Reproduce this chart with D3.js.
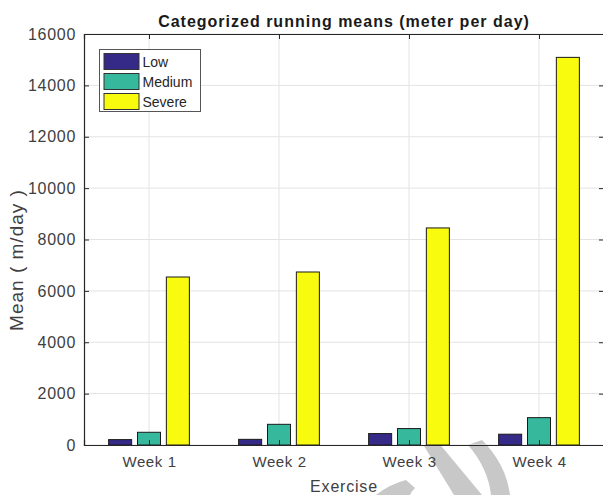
<!DOCTYPE html>
<html>
<head>
<meta charset="utf-8">
<script src="https://cdn.jsdelivr.net/npm/d3@7"></script>
<style>
  body { margin: 0; background: #fff; }
  svg { display: block; font-family: "Liberation Sans", Arial, sans-serif; }
</style>
</head>
<body>
<div id="chart"></div>
<script>
// data
const weeks = ["Week 1", "Week 2", "Week 3", "Week 4"];
const groups = ["Low", "Medium", "Severe"];
const low = [210, 220, 445, 420];
const medium = [495, 805, 640, 1065];
const severe = [6540, 6735, 8450, 15090];
const yTicks = [0, 2000, 4000, 6000, 8000, 10000, 12000, 14000, 16000];

const colors = ["#352a87", "#35b89c", "#f9fb0e"];
const series = [low, medium, severe];

// layout
const W = 603, H = 495;
const margin = {top: 34, left: 84, bottom: 50, right: -1};
const width = W - margin.left - margin.right;
const height = H - margin.top - margin.bottom;

const svg = d3.select("#chart").append("svg")
    .attr("width", W)
    .attr("height", H);

// watermark fragment at the bottom (drawn first, text sits on it)
const wm = svg.append("g").attr("fill", "#c8c8c8");
wm.append("path").attr("d", "M376,495 Q390,484 406,480 L415,488 Q411,492 410,495 Z");
wm.append("path").attr("d", "M424,446 L438,442 L482,495 L454,495 Z");
wm.append("path").attr("d", "M468,445 L482,440 Q506,464 510,495 L491,495 Q488,468 468,445 Z");

const g = svg.append("g")
    .attr("transform", `translate(${margin.left},${margin.top})`);

// scales
const x = d3.scaleLinear().domain([0.5, 4.5]).range([0, width]);
const y = d3.scaleLinear().domain([0, 16000]).range([height, 0]);

const offsets = [-0.222, 0, 0.222];
const barW = 0.177;

// grid
g.append("g").selectAll("line.gx")
    .data(weeks)
    .enter().append("line")
    .attr("x1", (d, i) => x(i + 1)).attr("x2", (d, i) => x(i + 1))
    .attr("y1", 0).attr("y2", height)
    .attr("stroke", "#e3e3e3");
g.append("g").selectAll("line.gy")
    .data(yTicks)
    .enter().append("line")
    .attr("x1", 0).attr("x2", width)
    .attr("y1", d => y(d)).attr("y2", d => y(d))
    .attr("stroke", "#e3e3e3");

// bars
series.forEach((vals, s) => {
  g.append("g").selectAll("rect")
    .data(vals)
    .enter().append("rect")
    .attr("x", (d, i) => x(i + 1 + offsets[s] - barW / 2))
    .attr("width", x(barW) - x(0))
    .attr("y", d => y(d))
    .attr("height", d => height - y(d))
    .attr("fill", colors[s])
    .attr("stroke", "#1a1a1a")
    .attr("stroke-width", 1);
});

// axes (ticks point inward, box on)
const axisColor = "#262626";
const tickLen = 5;

const yAxis = g.append("g")
    .call(d3.axisLeft(y).tickValues(yTicks).tickSize(-tickLen).tickPadding(8).tickFormat(d3.format("d")));
const yAxisR = g.append("g")
    .attr("transform", `translate(${width},0)`)
    .call(d3.axisRight(y).tickValues(yTicks).tickSize(-tickLen).tickFormat(""));
const xAxis = g.append("g")
    .attr("transform", `translate(0,${height})`)
    .call(d3.axisBottom(x).tickValues([1, 2, 3, 4]).tickSize(-tickLen).tickPadding(11)
      .tickFormat(d => weeks[d - 1]));
const xAxisT = g.append("g")
    .call(d3.axisTop(x).tickValues([1, 2, 3, 4]).tickSize(-tickLen).tickFormat(""));

[yAxis, yAxisR, xAxis, xAxisT].forEach(a => {
  a.select(".domain").attr("stroke", axisColor).attr("stroke-width", 1.2);
  a.selectAll(".tick line").attr("stroke", axisColor);
  a.selectAll(".tick text")
    .attr("fill", "#404040")
    .style("font-family", "'Liberation Sans', Arial, sans-serif");
});
yAxis.selectAll(".tick text").style("font-size", "16px").style("letter-spacing", "0.7px");
xAxis.selectAll(".tick text").style("font-size", "15px").style("letter-spacing", "0.6px");

// title and labels
svg.append("text")
    .attr("x", 344).attr("y", 27)
    .attr("text-anchor", "middle")
    .style("font-size", "16px").style("font-weight", "bold")
    .style("letter-spacing", "1px")
    .attr("fill", "#1a1a1a")
    .text("Categorized running means (meter per day)");

svg.append("text")
    .attr("transform", "translate(23,260) rotate(-90)")
    .attr("text-anchor", "middle")
    .style("font-size", "19px")
    .style("letter-spacing", "1px")
    .attr("fill", "#404040")
    .text("Mean ( m/day )");

svg.append("text")
    .attr("x", 344).attr("y", 492)
    .attr("text-anchor", "middle")
    .style("font-size", "16px")
    .style("letter-spacing", "0.8px")
    .attr("fill", "#404040")
    .text("Exercise");

// legend
const legend = svg.append("g").attr("transform", "translate(99.5,49.5)");
legend.append("rect")
    .attr("width", 101).attr("height", 62)
    .attr("fill", "#fff").attr("stroke", "#555").attr("stroke-width", 1);
groups.forEach((name, i) => {
  legend.append("rect")
    .attr("x", 4.5).attr("y", 4 + i * 20)
    .attr("width", 35).attr("height", 16)
    .attr("fill", colors[i]).attr("stroke", "#333");
  legend.append("text")
    .attr("x", 43).attr("y", 17 + i * 20)
    .style("font-size", "14px")
    .attr("fill", "#262626")
    .text(name);
});
</script>
</body>
</html>
